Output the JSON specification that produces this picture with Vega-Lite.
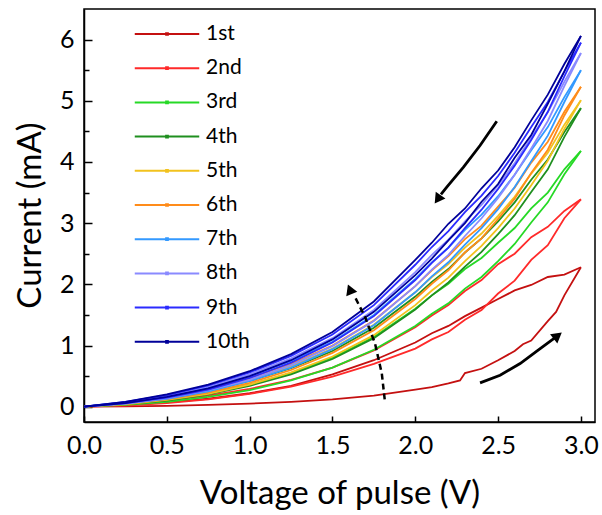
{
"$schema": "https://vega.github.io/schema/vega-lite/v6.json",
"width": 511, "height": 413,
"autosize": {"type": "none"},
"padding": {"left": 84, "top": 9, "right": 7, "bottom": 93},
"background": "white",
"config": {
 "font": "Lato",
 "view": {"stroke": "black", "strokeWidth": 1.5},
 "axis": {"domainColor": "black", "domainWidth": 1.5, "tickColor": "black", "tickWidth": 1.5, "labelColor": "black", "titleColor": "black", "grid": false, "labelFont": "Lato", "titleFont": "Lato", "titleFontWeight": "normal", "labelFlush": false, "labelOverlap": false},
 "legend": {"labelFont": "Lato", "labelColor": "black"}
},
"datasets": {
 "curves": [
{"c":"1st","s":"b","V":0,"I":0},{"c":"1st","s":"b","V":0.25,"I":0.03},{"c":"1st","s":"b","V":0.5,"I":0.07},{"c":"1st","s":"b","V":0.75,"I":0.13},{"c":"1st","s":"b","V":1,"I":0.22},{"c":"1st","s":"b","V":1.25,"I":0.34},{"c":"1st","s":"b","V":1.5,"I":0.53},{"c":"1st","s":"b","V":1.75,"I":0.76},{"c":"1st","s":"b","V":2,"I":1.05},{"c":"1st","s":"b","V":2.1,"I":1.2},{"c":"1st","s":"b","V":2.2,"I":1.32},{"c":"1st","s":"b","V":2.3,"I":1.48},{"c":"1st","s":"b","V":2.4,"I":1.62},{"c":"1st","s":"b","V":2.5,"I":1.76},{"c":"1st","s":"b","V":2.6,"I":1.9},{"c":"1st","s":"b","V":2.7,"I":1.99},{"c":"1st","s":"b","V":2.8,"I":2.12},{"c":"1st","s":"b","V":2.9,"I":2.16},{"c":"1st","s":"b","V":3,"I":2.28},
{"c":"1st","s":"f","V":0,"I":0},{"c":"1st","s":"f","V":0.25,"I":0.005},{"c":"1st","s":"f","V":0.5,"I":0.015},{"c":"1st","s":"f","V":0.75,"I":0.03},{"c":"1st","s":"f","V":1,"I":0.05},{"c":"1st","s":"f","V":1.25,"I":0.08},{"c":"1st","s":"f","V":1.5,"I":0.12},{"c":"1st","s":"f","V":1.75,"I":0.18},{"c":"1st","s":"f","V":2,"I":0.28},{"c":"1st","s":"f","V":2.1,"I":0.32},{"c":"1st","s":"f","V":2.2,"I":0.38},{"c":"1st","s":"f","V":2.27,"I":0.43},{"c":"1st","s":"f","V":2.3,"I":0.55},{"c":"1st","s":"f","V":2.4,"I":0.62},{"c":"1st","s":"f","V":2.5,"I":0.76},{"c":"1st","s":"f","V":2.6,"I":0.91},{"c":"1st","s":"f","V":2.65,"I":1.02},{"c":"1st","s":"f","V":2.7,"I":1.08},{"c":"1st","s":"f","V":2.8,"I":1.4},{"c":"1st","s":"f","V":2.85,"I":1.55},{"c":"1st","s":"f","V":2.9,"I":1.82},{"c":"1st","s":"f","V":3,"I":2.28},
{"c":"2nd","s":"b","V":0,"I":0},{"c":"2nd","s":"b","V":0.25,"I":0.04},{"c":"2nd","s":"b","V":0.5,"I":0.1},{"c":"2nd","s":"b","V":0.75,"I":0.18},{"c":"2nd","s":"b","V":1,"I":0.29},{"c":"2nd","s":"b","V":1.25,"I":0.44},{"c":"2nd","s":"b","V":1.5,"I":0.64},{"c":"2nd","s":"b","V":1.75,"I":0.92},{"c":"2nd","s":"b","V":2,"I":1.3},{"c":"2nd","s":"b","V":2.1,"I":1.49},{"c":"2nd","s":"b","V":2.2,"I":1.66},{"c":"2nd","s":"b","V":2.3,"I":1.89},{"c":"2nd","s":"b","V":2.4,"I":2.07},{"c":"2nd","s":"b","V":2.5,"I":2.33},{"c":"2nd","s":"b","V":2.6,"I":2.5},{"c":"2nd","s":"b","V":2.7,"I":2.77},{"c":"2nd","s":"b","V":2.8,"I":2.94},{"c":"2nd","s":"b","V":2.9,"I":3.2},{"c":"2nd","s":"b","V":3,"I":3.39},
{"c":"2nd","s":"f","V":0,"I":0},{"c":"2nd","s":"f","V":0.25,"I":0.02},{"c":"2nd","s":"f","V":0.5,"I":0.06},{"c":"2nd","s":"f","V":0.75,"I":0.12},{"c":"2nd","s":"f","V":1,"I":0.21},{"c":"2nd","s":"f","V":1.25,"I":0.33},{"c":"2nd","s":"f","V":1.5,"I":0.49},{"c":"2nd","s":"f","V":1.75,"I":0.7},{"c":"2nd","s":"f","V":2,"I":0.95},{"c":"2nd","s":"f","V":2.1,"I":1.1},{"c":"2nd","s":"f","V":2.2,"I":1.22},{"c":"2nd","s":"f","V":2.3,"I":1.42},{"c":"2nd","s":"f","V":2.4,"I":1.58},{"c":"2nd","s":"f","V":2.5,"I":1.85},{"c":"2nd","s":"f","V":2.6,"I":2.06},{"c":"2nd","s":"f","V":2.7,"I":2.4},{"c":"2nd","s":"f","V":2.8,"I":2.64},{"c":"2nd","s":"f","V":2.9,"I":3.08},{"c":"2nd","s":"f","V":3,"I":3.39},
{"c":"3rd","s":"b","V":0,"I":0},{"c":"3rd","s":"b","V":0.25,"I":0.05},{"c":"3rd","s":"b","V":0.5,"I":0.12},{"c":"3rd","s":"b","V":0.75,"I":0.22},{"c":"3rd","s":"b","V":1,"I":0.36},{"c":"3rd","s":"b","V":1.25,"I":0.55},{"c":"3rd","s":"b","V":1.5,"I":0.8},{"c":"3rd","s":"b","V":1.75,"I":1.14},{"c":"3rd","s":"b","V":2,"I":1.6},{"c":"3rd","s":"b","V":2.1,"I":1.82},{"c":"3rd","s":"b","V":2.2,"I":2.01},{"c":"3rd","s":"b","V":2.3,"I":2.25},{"c":"3rd","s":"b","V":2.4,"I":2.43},{"c":"3rd","s":"b","V":2.5,"I":2.68},{"c":"3rd","s":"b","V":2.6,"I":2.92},{"c":"3rd","s":"b","V":2.7,"I":3.24},{"c":"3rd","s":"b","V":2.8,"I":3.5},{"c":"3rd","s":"b","V":2.9,"I":3.88},{"c":"3rd","s":"b","V":3,"I":4.18},
{"c":"3rd","s":"f","V":0,"I":0},{"c":"3rd","s":"f","V":0.25,"I":0.03},{"c":"3rd","s":"f","V":0.5,"I":0.08},{"c":"3rd","s":"f","V":0.75,"I":0.16},{"c":"3rd","s":"f","V":1,"I":0.27},{"c":"3rd","s":"f","V":1.25,"I":0.43},{"c":"3rd","s":"f","V":1.5,"I":0.64},{"c":"3rd","s":"f","V":1.75,"I":0.93},{"c":"3rd","s":"f","V":2,"I":1.32},{"c":"3rd","s":"f","V":2.1,"I":1.52},{"c":"3rd","s":"f","V":2.2,"I":1.69},{"c":"3rd","s":"f","V":2.3,"I":1.93},{"c":"3rd","s":"f","V":2.4,"I":2.12},{"c":"3rd","s":"f","V":2.5,"I":2.38},{"c":"3rd","s":"f","V":2.6,"I":2.66},{"c":"3rd","s":"f","V":2.7,"I":3.01},{"c":"3rd","s":"f","V":2.8,"I":3.34},{"c":"3rd","s":"f","V":2.9,"I":3.8},{"c":"3rd","s":"f","V":3,"I":4.18},
{"c":"4th","s":"b","V":0,"I":0},{"c":"4th","s":"b","V":0.25,"I":0.06},{"c":"4th","s":"b","V":0.5,"I":0.14},{"c":"4th","s":"b","V":0.75,"I":0.26},{"c":"4th","s":"b","V":1,"I":0.42},{"c":"4th","s":"b","V":1.25,"I":0.63},{"c":"4th","s":"b","V":1.5,"I":0.91},{"c":"4th","s":"b","V":1.75,"I":1.29},{"c":"4th","s":"b","V":2,"I":1.8},{"c":"4th","s":"b","V":2.1,"I":2.04},{"c":"4th","s":"b","V":2.2,"I":2.25},{"c":"4th","s":"b","V":2.3,"I":2.52},{"c":"4th","s":"b","V":2.4,"I":2.75},{"c":"4th","s":"b","V":2.5,"I":3.03},{"c":"4th","s":"b","V":2.6,"I":3.34},{"c":"4th","s":"b","V":2.7,"I":3.71},{"c":"4th","s":"b","V":2.8,"I":4.04},{"c":"4th","s":"b","V":2.9,"I":4.49},{"c":"4th","s":"b","V":3,"I":4.88},
{"c":"4th","s":"f","V":0,"I":0},{"c":"4th","s":"f","V":0.25,"I":0.04},{"c":"4th","s":"f","V":0.5,"I":0.1},{"c":"4th","s":"f","V":0.75,"I":0.2},{"c":"4th","s":"f","V":1,"I":0.34},{"c":"4th","s":"f","V":1.25,"I":0.53},{"c":"4th","s":"f","V":1.5,"I":0.78},{"c":"4th","s":"f","V":1.75,"I":1.12},{"c":"4th","s":"f","V":2,"I":1.59},{"c":"4th","s":"f","V":2.1,"I":1.82},{"c":"4th","s":"f","V":2.2,"I":2.03},{"c":"4th","s":"f","V":2.3,"I":2.29},{"c":"4th","s":"f","V":2.4,"I":2.53},{"c":"4th","s":"f","V":2.5,"I":2.82},{"c":"4th","s":"f","V":2.6,"I":3.13},{"c":"4th","s":"f","V":2.7,"I":3.51},{"c":"4th","s":"f","V":2.8,"I":3.88},{"c":"4th","s":"f","V":2.9,"I":4.41},{"c":"4th","s":"f","V":3,"I":4.88},
{"c":"5th","s":"b","V":0,"I":0},{"c":"5th","s":"b","V":0.25,"I":0.06},{"c":"5th","s":"b","V":0.5,"I":0.15},{"c":"5th","s":"b","V":0.75,"I":0.27},{"c":"5th","s":"b","V":1,"I":0.44},{"c":"5th","s":"b","V":1.25,"I":0.66},{"c":"5th","s":"b","V":1.5,"I":0.95},{"c":"5th","s":"b","V":1.75,"I":1.34},{"c":"5th","s":"b","V":2,"I":1.87},{"c":"5th","s":"b","V":2.1,"I":2.12},{"c":"5th","s":"b","V":2.2,"I":2.33},{"c":"5th","s":"b","V":2.3,"I":2.6},{"c":"5th","s":"b","V":2.4,"I":2.83},{"c":"5th","s":"b","V":2.5,"I":3.12},{"c":"5th","s":"b","V":2.6,"I":3.43},{"c":"5th","s":"b","V":2.7,"I":3.81},{"c":"5th","s":"b","V":2.8,"I":4.15},{"c":"5th","s":"b","V":2.9,"I":4.61},{"c":"5th","s":"b","V":3,"I":5.01},
{"c":"5th","s":"f","V":0,"I":0},{"c":"5th","s":"f","V":0.25,"I":0.04},{"c":"5th","s":"f","V":0.5,"I":0.11},{"c":"5th","s":"f","V":0.75,"I":0.21},{"c":"5th","s":"f","V":1,"I":0.36},{"c":"5th","s":"f","V":1.25,"I":0.56},{"c":"5th","s":"f","V":1.5,"I":0.82},{"c":"5th","s":"f","V":1.75,"I":1.17},{"c":"5th","s":"f","V":2,"I":1.66},{"c":"5th","s":"f","V":2.1,"I":1.9},{"c":"5th","s":"f","V":2.2,"I":2.11},{"c":"5th","s":"f","V":2.3,"I":2.38},{"c":"5th","s":"f","V":2.4,"I":2.63},{"c":"5th","s":"f","V":2.5,"I":2.92},{"c":"5th","s":"f","V":2.6,"I":3.24},{"c":"5th","s":"f","V":2.7,"I":3.62},{"c":"5th","s":"f","V":2.8,"I":4.02},{"c":"5th","s":"f","V":2.9,"I":4.54},{"c":"5th","s":"f","V":3,"I":5.01},
{"c":"6th","s":"b","V":0,"I":0},{"c":"6th","s":"b","V":0.25,"I":0.06},{"c":"6th","s":"b","V":0.5,"I":0.16},{"c":"6th","s":"b","V":0.75,"I":0.29},{"c":"6th","s":"b","V":1,"I":0.47},{"c":"6th","s":"b","V":1.25,"I":0.7},{"c":"6th","s":"b","V":1.5,"I":1},{"c":"6th","s":"b","V":1.75,"I":1.41},{"c":"6th","s":"b","V":2,"I":1.97},{"c":"6th","s":"b","V":2.1,"I":2.23},{"c":"6th","s":"b","V":2.2,"I":2.46},{"c":"6th","s":"b","V":2.3,"I":2.74},{"c":"6th","s":"b","V":2.4,"I":2.96},{"c":"6th","s":"b","V":2.5,"I":3.27},{"c":"6th","s":"b","V":2.6,"I":3.58},{"c":"6th","s":"b","V":2.7,"I":3.99},{"c":"6th","s":"b","V":2.8,"I":4.33},{"c":"6th","s":"b","V":2.9,"I":4.82},{"c":"6th","s":"b","V":3,"I":5.23},
{"c":"6th","s":"f","V":0,"I":0},{"c":"6th","s":"f","V":0.25,"I":0.05},{"c":"6th","s":"f","V":0.5,"I":0.12},{"c":"6th","s":"f","V":0.75,"I":0.23},{"c":"6th","s":"f","V":1,"I":0.39},{"c":"6th","s":"f","V":1.25,"I":0.6},{"c":"6th","s":"f","V":1.5,"I":0.88},{"c":"6th","s":"f","V":1.75,"I":1.25},{"c":"6th","s":"f","V":2,"I":1.76},{"c":"6th","s":"f","V":2.1,"I":2.01},{"c":"6th","s":"f","V":2.2,"I":2.23},{"c":"6th","s":"f","V":2.3,"I":2.52},{"c":"6th","s":"f","V":2.4,"I":2.75},{"c":"6th","s":"f","V":2.5,"I":3.07},{"c":"6th","s":"f","V":2.6,"I":3.4},{"c":"6th","s":"f","V":2.7,"I":3.82},{"c":"6th","s":"f","V":2.8,"I":4.2},{"c":"6th","s":"f","V":2.9,"I":4.76},{"c":"6th","s":"f","V":3,"I":5.23},
{"c":"7th","s":"b","V":0,"I":0},{"c":"7th","s":"b","V":0.25,"I":0.07},{"c":"7th","s":"b","V":0.5,"I":0.17},{"c":"7th","s":"b","V":0.75,"I":0.31},{"c":"7th","s":"b","V":1,"I":0.5},{"c":"7th","s":"b","V":1.25,"I":0.75},{"c":"7th","s":"b","V":1.5,"I":1.06},{"c":"7th","s":"b","V":1.75,"I":1.5},{"c":"7th","s":"b","V":2,"I":2.09},{"c":"7th","s":"b","V":2.1,"I":2.36},{"c":"7th","s":"b","V":2.2,"I":2.6},{"c":"7th","s":"b","V":2.3,"I":2.89},{"c":"7th","s":"b","V":2.4,"I":3.14},{"c":"7th","s":"b","V":2.5,"I":3.44},{"c":"7th","s":"b","V":2.6,"I":3.79},{"c":"7th","s":"b","V":2.7,"I":4.19},{"c":"7th","s":"b","V":2.8,"I":4.57},{"c":"7th","s":"b","V":2.9,"I":5.06},{"c":"7th","s":"b","V":3,"I":5.5},
{"c":"7th","s":"f","V":0,"I":0},{"c":"7th","s":"f","V":0.25,"I":0.05},{"c":"7th","s":"f","V":0.5,"I":0.13},{"c":"7th","s":"f","V":0.75,"I":0.25},{"c":"7th","s":"f","V":1,"I":0.42},{"c":"7th","s":"f","V":1.25,"I":0.64},{"c":"7th","s":"f","V":1.5,"I":0.94},{"c":"7th","s":"f","V":1.75,"I":1.33},{"c":"7th","s":"f","V":2,"I":1.87},{"c":"7th","s":"f","V":2.1,"I":2.13},{"c":"7th","s":"f","V":2.2,"I":2.36},{"c":"7th","s":"f","V":2.3,"I":2.65},{"c":"7th","s":"f","V":2.4,"I":2.92},{"c":"7th","s":"f","V":2.5,"I":3.23},{"c":"7th","s":"f","V":2.6,"I":3.59},{"c":"7th","s":"f","V":2.7,"I":4.01},{"c":"7th","s":"f","V":2.8,"I":4.43},{"c":"7th","s":"f","V":2.9,"I":4.98},{"c":"7th","s":"f","V":3,"I":5.5},
{"c":"8th","s":"b","V":0,"I":0},{"c":"8th","s":"b","V":0.25,"I":0.07},{"c":"8th","s":"b","V":0.5,"I":0.18},{"c":"8th","s":"b","V":0.75,"I":0.33},{"c":"8th","s":"b","V":1,"I":0.53},{"c":"8th","s":"b","V":1.25,"I":0.79},{"c":"8th","s":"b","V":1.5,"I":1.12},{"c":"8th","s":"b","V":1.75,"I":1.58},{"c":"8th","s":"b","V":2,"I":2.2},{"c":"8th","s":"b","V":2.1,"I":2.48},{"c":"8th","s":"b","V":2.2,"I":2.73},{"c":"8th","s":"b","V":2.3,"I":3.03},{"c":"8th","s":"b","V":2.4,"I":3.3},{"c":"8th","s":"b","V":2.5,"I":3.62},{"c":"8th","s":"b","V":2.6,"I":3.98},{"c":"8th","s":"b","V":2.7,"I":4.4},{"c":"8th","s":"b","V":2.8,"I":4.81},{"c":"8th","s":"b","V":2.9,"I":5.31},{"c":"8th","s":"b","V":3,"I":5.78},
{"c":"8th","s":"f","V":0,"I":0},{"c":"8th","s":"f","V":0.25,"I":0.05},{"c":"8th","s":"f","V":0.5,"I":0.14},{"c":"8th","s":"f","V":0.75,"I":0.27},{"c":"8th","s":"f","V":1,"I":0.44},{"c":"8th","s":"f","V":1.25,"I":0.68},{"c":"8th","s":"f","V":1.5,"I":0.99},{"c":"8th","s":"f","V":1.75,"I":1.4},{"c":"8th","s":"f","V":2,"I":1.97},{"c":"8th","s":"f","V":2.1,"I":2.24},{"c":"8th","s":"f","V":2.2,"I":2.48},{"c":"8th","s":"f","V":2.3,"I":2.79},{"c":"8th","s":"f","V":2.4,"I":3.08},{"c":"8th","s":"f","V":2.5,"I":3.41},{"c":"8th","s":"f","V":2.6,"I":3.79},{"c":"8th","s":"f","V":2.7,"I":4.22},{"c":"8th","s":"f","V":2.8,"I":4.67},{"c":"8th","s":"f","V":2.9,"I":5.24},{"c":"8th","s":"f","V":3,"I":5.78},
{"c":"9th","s":"b","V":0,"I":0},{"c":"9th","s":"b","V":0.25,"I":0.08},{"c":"9th","s":"b","V":0.5,"I":0.19},{"c":"9th","s":"b","V":0.75,"I":0.35},{"c":"9th","s":"b","V":1,"I":0.56},{"c":"9th","s":"b","V":1.25,"I":0.83},{"c":"9th","s":"b","V":1.5,"I":1.18},{"c":"9th","s":"b","V":1.75,"I":1.66},{"c":"9th","s":"b","V":2,"I":2.32},{"c":"9th","s":"b","V":2.1,"I":2.61},{"c":"9th","s":"b","V":2.2,"I":2.87},{"c":"9th","s":"b","V":2.3,"I":3.18},{"c":"9th","s":"b","V":2.4,"I":3.45},{"c":"9th","s":"b","V":2.5,"I":3.77},{"c":"9th","s":"b","V":2.6,"I":4.15},{"c":"9th","s":"b","V":2.7,"I":4.57},{"c":"9th","s":"b","V":2.8,"I":4.98},{"c":"9th","s":"b","V":2.9,"I":5.48},{"c":"9th","s":"b","V":3,"I":5.95},
{"c":"9th","s":"f","V":0,"I":0},{"c":"9th","s":"f","V":0.25,"I":0.06},{"c":"9th","s":"f","V":0.5,"I":0.15},{"c":"9th","s":"f","V":0.75,"I":0.28},{"c":"9th","s":"f","V":1,"I":0.47},{"c":"9th","s":"f","V":1.25,"I":0.72},{"c":"9th","s":"f","V":1.5,"I":1.05},{"c":"9th","s":"f","V":1.75,"I":1.48},{"c":"9th","s":"f","V":2,"I":2.07},{"c":"9th","s":"f","V":2.1,"I":2.35},{"c":"9th","s":"f","V":2.2,"I":2.6},{"c":"9th","s":"f","V":2.3,"I":2.92},{"c":"9th","s":"f","V":2.4,"I":3.22},{"c":"9th","s":"f","V":2.5,"I":3.56},{"c":"9th","s":"f","V":2.6,"I":3.94},{"c":"9th","s":"f","V":2.7,"I":4.36},{"c":"9th","s":"f","V":2.8,"I":4.82},{"c":"9th","s":"f","V":2.9,"I":5.4},{"c":"9th","s":"f","V":3,"I":5.95},
{"c":"10th","s":"b","V":0,"I":0},{"c":"10th","s":"b","V":0.25,"I":0.08},{"c":"10th","s":"b","V":0.5,"I":0.2},{"c":"10th","s":"b","V":0.75,"I":0.36},{"c":"10th","s":"b","V":1,"I":0.58},{"c":"10th","s":"b","V":1.25,"I":0.86},{"c":"10th","s":"b","V":1.5,"I":1.22},{"c":"10th","s":"b","V":1.75,"I":1.72},{"c":"10th","s":"b","V":2,"I":2.4},{"c":"10th","s":"b","V":2.1,"I":2.68},{"c":"10th","s":"b","V":2.2,"I":2.99},{"c":"10th","s":"b","V":2.3,"I":3.24},{"c":"10th","s":"b","V":2.4,"I":3.57},{"c":"10th","s":"b","V":2.5,"I":3.86},{"c":"10th","s":"b","V":2.6,"I":4.24},{"c":"10th","s":"b","V":2.7,"I":4.68},{"c":"10th","s":"b","V":2.8,"I":5.1},{"c":"10th","s":"b","V":2.9,"I":5.6},{"c":"10th","s":"b","V":3,"I":6.06},
{"c":"10th","s":"f","V":0,"I":0},{"c":"10th","s":"f","V":0.25,"I":0.06},{"c":"10th","s":"f","V":0.5,"I":0.16},{"c":"10th","s":"f","V":0.75,"I":0.3},{"c":"10th","s":"f","V":1,"I":0.5},{"c":"10th","s":"f","V":1.25,"I":0.76},{"c":"10th","s":"f","V":1.5,"I":1.1},{"c":"10th","s":"f","V":1.75,"I":1.55},{"c":"10th","s":"f","V":2,"I":2.15},{"c":"10th","s":"f","V":2.1,"I":2.42},{"c":"10th","s":"f","V":2.2,"I":2.72},{"c":"10th","s":"f","V":2.3,"I":3},{"c":"10th","s":"f","V":2.4,"I":3.35},{"c":"10th","s":"f","V":2.5,"I":3.64},{"c":"10th","s":"f","V":2.6,"I":4.07},{"c":"10th","s":"f","V":2.7,"I":4.44},{"c":"10th","s":"f","V":2.8,"I":4.95},{"c":"10th","s":"f","V":2.9,"I":5.48},{"c":"10th","s":"f","V":3,"I":6.06}
 ],
 "arrowTop": [{"V":2.492,"I":4.666},{"V":2.391,"I":4.269},{"V":2.291,"I":3.915},{"V":2.19,"I":3.589},{"V":2.155,"I":3.47}],
 "arrowBot": [{"V":2.391,"I":0.389},{"V":2.512,"I":0.514},{"V":2.633,"I":0.705},{"V":2.754,"I":0.95},{"V":2.84,"I":1.12}],
 "arrowDash": [{"V":1.818,"I":0.054},{"V":1.798,"I":0.542},{"V":1.757,"I":1.032},{"V":1.697,"I":1.466},{"V":1.64,"I":1.77}]
},
"encoding": {
 "x": {"field": "V", "type": "quantitative",
  "scale": {"domain": [0, 3.085], "nice": false, "zero": false},
  "axis": {"title": "Voltage of pulse (V)", "values": [0, 0.5, 1, 1.5, 2, 2.5, 3], "format": ".1f", "tickSize": -6, "labelPadding": 17, "labelFontSize": 25, "titleFontSize": 33, "titleY": 81, "titleBaseline": "alphabetic"}},
 "y": {"field": "I", "type": "quantitative",
  "scale": {"domain": [-0.25, 6.5], "nice": false, "zero": false},
  "axis": {"title": "Current (mA)", "values": [0, 0.5, 1, 1.5, 2, 2.5, 3, 3.5, 4, 4.5, 5, 5.5, 6], "format": ".0f", "labelExpr": "datum.value % 1 === 0 ? datum.label : ''", "tickSize": {"condition": {"test": "datum.value % 1 === 0", "value": -8}, "value": -5}, "labelPadding": 18, "labelFontSize": 25, "titleFontSize": 33, "titleX": -54, "titleY": 206, "titleBaseline": "middle", "titleAlign": "center"}}
},
"layer": [
 {"data": {"name": "curves"},
  "mark": {"type": "line", "strokeWidth": 1.8},
  "encoding": {
   "color": {"field": "c", "type": "nominal",
    "scale": {"domain": ["1st","2nd","3rd","4th","5th","6th","7th","8th","9th","10th"],
     "range": ["#c41010","#ff2a2a","#26d926","#1f8f1f","#f2c21e","#ff8c1a","#3399ff","#8a8aff","#2b2bff","#000099"]},
    "legend": {"orient": "none", "legendX": 71, "legendY": 13, "title": null,
     "symbolType": "M-3,0H3M-0.08,-0.08H0.08V0.08H-0.08Z", "symbolSize": 462, "symbolStrokeWidth": 2,
     "labelFontSize": 21, "labelOffset": 27, "rowPadding": 12.2}},
   "detail": {"field": "s", "type": "nominal"}
  }},
 {"data": {"name": "arrowTop"}, "mark": {"type": "line", "color": "black", "strokeWidth": 2.8}, "encoding": {}},
 {"data": {"values": [{"V":2.135,"I":3.39}]}, "mark": {"type": "point", "shape": "triangle-up", "angle": 215, "filled": true, "color": "black", "size": 140, "opacity": 1}, "encoding": {}},
 {"data": {"name": "arrowBot"}, "mark": {"type": "line", "color": "black", "strokeWidth": 2.8}, "encoding": {}},
 {"data": {"values": [{"V":2.86,"I":1.16}]}, "mark": {"type": "point", "shape": "triangle-up", "angle": 52, "filled": true, "color": "black", "size": 140, "opacity": 1}, "encoding": {}},
 {"data": {"name": "arrowDash"}, "mark": {"type": "line", "color": "black", "strokeWidth": 2.5, "strokeDash": [6, 4]}, "encoding": {}},
 {"data": {"values": [{"V":1.605,"I":1.92}]}, "mark": {"type": "point", "shape": "triangle-up", "angle": 338, "filled": true, "color": "black", "size": 140, "opacity": 1}, "encoding": {}}
]
}
